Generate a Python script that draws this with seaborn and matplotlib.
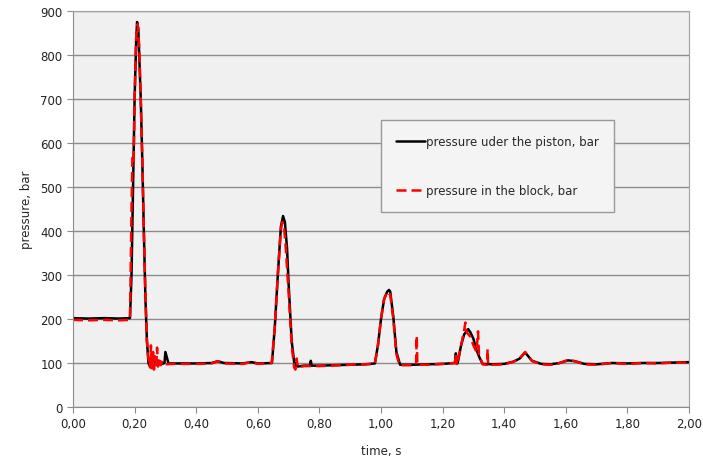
import pandas as pd
import numpy as np
import matplotlib.pyplot as plt
import matplotlib.ticker as mticker
import seaborn as sns

# pressure under the piston (black, solid)
t_piston = [0.00, 0.05, 0.10, 0.15, 0.185, 0.19, 0.195, 0.20, 0.205, 0.208, 0.212, 0.215,
            0.22, 0.225, 0.23, 0.235, 0.24, 0.245, 0.25, 0.26, 0.27, 0.28, 0.29, 0.297,
            0.30, 0.31, 0.35, 0.40, 0.45, 0.47, 0.49, 0.55, 0.58, 0.60, 0.646, 0.655,
            0.665, 0.675, 0.682, 0.688, 0.695, 0.70, 0.71, 0.72, 0.725, 0.73, 0.75, 0.77,
            0.772, 0.775, 0.80, 0.85, 0.90, 0.95, 0.98, 0.99, 1.00, 1.01, 1.02, 1.026,
            1.03, 1.04, 1.05, 1.062, 1.10, 1.15, 1.20, 1.24, 1.243, 1.247, 1.25, 1.26,
            1.27, 1.283, 1.29, 1.30, 1.31, 1.32, 1.33, 1.36, 1.40, 1.43, 1.45, 1.468,
            1.49, 1.52, 1.55, 1.58, 1.607, 1.63, 1.66, 1.70, 1.75, 1.80, 1.85, 1.90,
            1.95, 2.00]
p_piston = [202, 201, 202, 201, 202, 300, 500, 700, 830, 875, 860, 800,
            700, 560, 400, 250, 150, 100, 92, 110, 95, 105, 98, 100,
            125, 99, 99, 99, 100, 104, 100, 99, 102, 99, 100, 180,
            300, 410, 434, 420, 360, 280, 150, 90, 100, 92, 94, 94,
            105, 94, 94, 95, 96, 97, 99, 140, 200, 245, 262, 266,
            262, 205, 125, 96, 96, 97, 98, 100, 122, 98, 104, 140,
            165, 177, 170, 155, 130, 112, 98, 97, 98, 103, 110, 124,
            105, 98, 97, 100, 106, 104, 98, 97, 100, 99, 100, 100,
            101, 102]

# pressure in the block (red, dashed)
t_block = [0.00, 0.05, 0.10, 0.15, 0.185, 0.19, 0.193, 0.197, 0.20, 0.205, 0.21, 0.215,
           0.22, 0.225, 0.23, 0.235, 0.24, 0.245, 0.25, 0.253, 0.256, 0.26, 0.263, 0.266,
           0.27, 0.273, 0.276, 0.28, 0.285, 0.29, 0.30, 0.32, 0.40, 0.45, 0.47, 0.49,
           0.55, 0.58, 0.60, 0.645, 0.655, 0.665, 0.675, 0.68, 0.685, 0.69, 0.70, 0.71,
           0.718, 0.722, 0.726, 0.73, 0.75, 0.80, 0.90, 0.98, 0.99, 1.00, 1.01, 1.02,
           1.03, 1.04, 1.05, 1.06, 1.10, 1.114, 1.116, 1.118, 1.15, 1.20, 1.24, 1.243,
           1.246, 1.25, 1.26, 1.27, 1.274, 1.278, 1.29, 1.30, 1.31, 1.315, 1.318, 1.33,
           1.344, 1.346, 1.348, 1.36, 1.40, 1.43, 1.45, 1.468, 1.49, 1.52, 1.55, 1.58,
           1.607, 1.63, 1.66, 1.70, 1.75, 1.80, 1.85, 1.90, 1.95, 2.00]
p_block = [198, 197, 198, 197, 198, 450, 570, 560, 700, 840, 870, 820,
           700, 560, 400, 260, 150, 110, 90, 140, 88, 125, 85, 115,
           90, 135, 92, 108, 95, 105, 97, 98, 98, 99, 104, 99,
           98, 102, 98, 100, 180, 300, 405, 420, 410, 370, 260, 140,
           90, 85, 110, 90, 93, 93, 96, 98, 140, 200, 245, 262,
           255, 200, 120, 95, 95, 96, 162, 96, 96, 98, 100, 120,
           95, 105, 140, 175, 192, 170, 160, 140, 125, 172, 120, 97,
           96, 132, 96, 96, 97, 103, 110, 125, 105, 97, 96, 100,
           107, 104, 97, 96, 100, 98, 100, 99, 101, 101]

y_ticks = [0, 100, 200, 300, 400, 500, 600, 700, 800, 900]
x_ticks = [0.0, 0.2, 0.4, 0.6, 0.8, 1.0, 1.2, 1.4, 1.6, 1.8, 2.0]

df_piston = pd.DataFrame({'time': t_piston, 'pressure': p_piston})
df_block = pd.DataFrame({'time': t_block, 'pressure': p_block})

sns.set_style('white')
plt.rcParams['font.family'] = ['DejaVu Sans']

fig = plt.figure(figsize=(7.03, 4.64), dpi=100)
ax = fig.add_axes([73/703, 1 - 408/464, (689 - 73)/703, (408 - 12)/464])
ax.set_facecolor('#f0f0f0')

sns.lineplot(data=df_piston, x='time', y='pressure', ax=ax, color='black', lw=1.8,
             sort=False, estimator=None, label='pressure uder the piston, bar')
sns.lineplot(data=df_block, x='time', y='pressure', ax=ax, color='#ff0000', lw=1.8,
             sort=False, estimator=None, label='pressure in the block, bar')
ax.lines[1].set_dashes([4, 2])

ax.set_xlim(0, 2.0)
ax.set_ylim(0, 900)
ax.set_yticks(y_ticks)
ax.set_xticks(x_ticks)
ax.xaxis.set_major_formatter(mticker.FuncFormatter(lambda v, p: f'{v:.2f}'.replace('.', ',')))
ax.yaxis.grid(True, color='#8c8c8c', lw=1.0)
ax.set_axisbelow(True)
ax.tick_params(axis='both', labelsize=8.5, colors='#222222', length=4, direction='out',
               left=True, bottom=True, color='#8c8c8c')
for side in ['top', 'right']:
    ax.spines[side].set_color('#a0a0a0')
for side in ['left', 'bottom']:
    ax.spines[side].set_color('#8c8c8c')

ax.set_xlabel('time, s', fontsize=8.5, labelpad=10)
ax.set_ylabel('pressure, bar', fontsize=8.5, labelpad=5)

leg = ax.legend(loc='upper left', bbox_to_anchor=(381/703, 1 - 121/464),
                bbox_transform=fig.transFigure, fontsize=8.5, frameon=True,
                fancybox=False, labelspacing=3.0, handlelength=2.4, handletextpad=0.1,
                borderpad=1.3, borderaxespad=0)
leg.get_frame().set_edgecolor('#999999')
leg.get_frame().set_facecolor('#f4f4f4')
leg.get_frame().set_alpha(1)

fig.savefig('out.png', dpi=100)
